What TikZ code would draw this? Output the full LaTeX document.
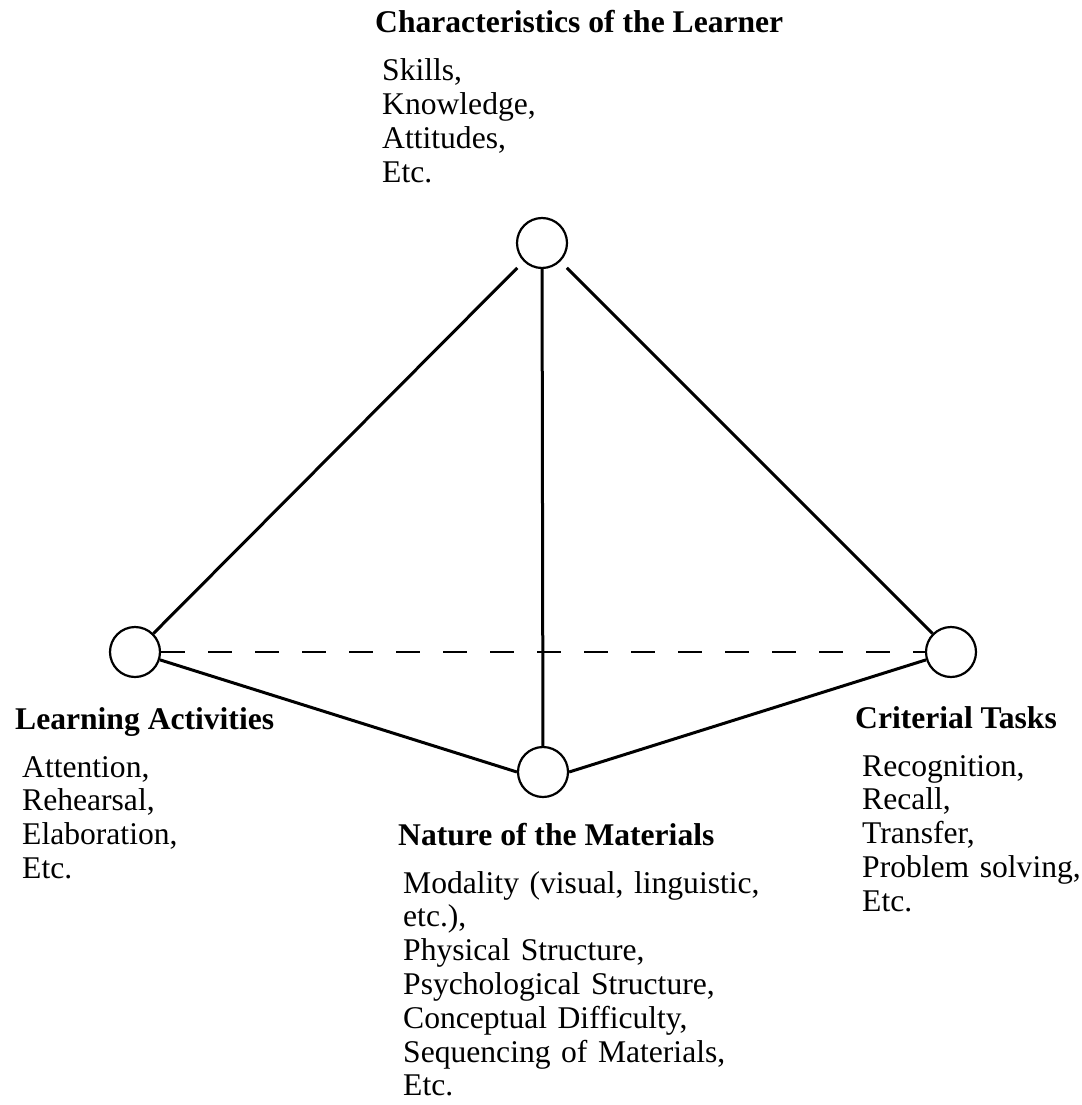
\documentclass[tikz,border=0pt]{standalone}
\usepackage{fontspec}
\setmainfont{Liberation Serif}
\begin{document}
\begin{tikzpicture}[x=1pt,y=-1pt,
  vert/.style={circle,draw,line width=2.2pt,minimum size=50pt,inner sep=0pt},
  edge/.style={line width=3pt},
  hidden/.style={line width=2.6pt,dash pattern=on 23.5pt off 23.5pt},
  head/.style={anchor=base west,inner sep=0pt,font=\fontsize{31.6}{33.8}\selectfont\bfseries},
  items/.style={anchor=base west,inner sep=0pt,text width=500pt,align=left,font=\fontsize{31.6}{33.8}\selectfont}]
\useasboundingbox (0,0) rectangle (1081,1105);
\node[vert] (top) at (542,243) {};
\node[vert] (left) at (135,652) {};
\node[vert] (right) at (951,652) {};
\node[vert] (bottom) at (543,772) {};
\draw[edge,shorten <=9pt] (top) -- (left);
\draw[edge,shorten <=9pt] (top) -- (right);
\draw[edge] (top) -- (bottom);
\draw[edge] (left) -- (bottom.west);
\draw[edge] (bottom.east) -- (right);
\draw[hidden] (left.east) -- (right.west);
\node[head] (h1) at (375,33) {Characteristics of the Learner};
\node[items] (l1) at (382,81) {Skills,\\Knowledge,\\Attitudes,\\Etc.};
\node[head] (h2) at (15,729) {Learning Activities};
\node[items] (l2) at (22,777) {Attention,\\Rehearsal,\\Elaboration,\\Etc.};
\node[head] (h3) at (398,845) {Nature of the Materials};
\node[items] (l3) at (403,893) {Modality (visual, linguistic,\\etc.),\\Physical Structure,\\Psychological Structure,\\Conceptual Difficulty,\\Sequencing of Materials,\\Etc.};
\node[head] (h4) at (855,728) {Criterial Tasks};
\node[items] (l4) at (862,776) {Recognition,\\Recall,\\Transfer,\\Problem solving,\\Etc.};
\end{tikzpicture}
\end{document}
